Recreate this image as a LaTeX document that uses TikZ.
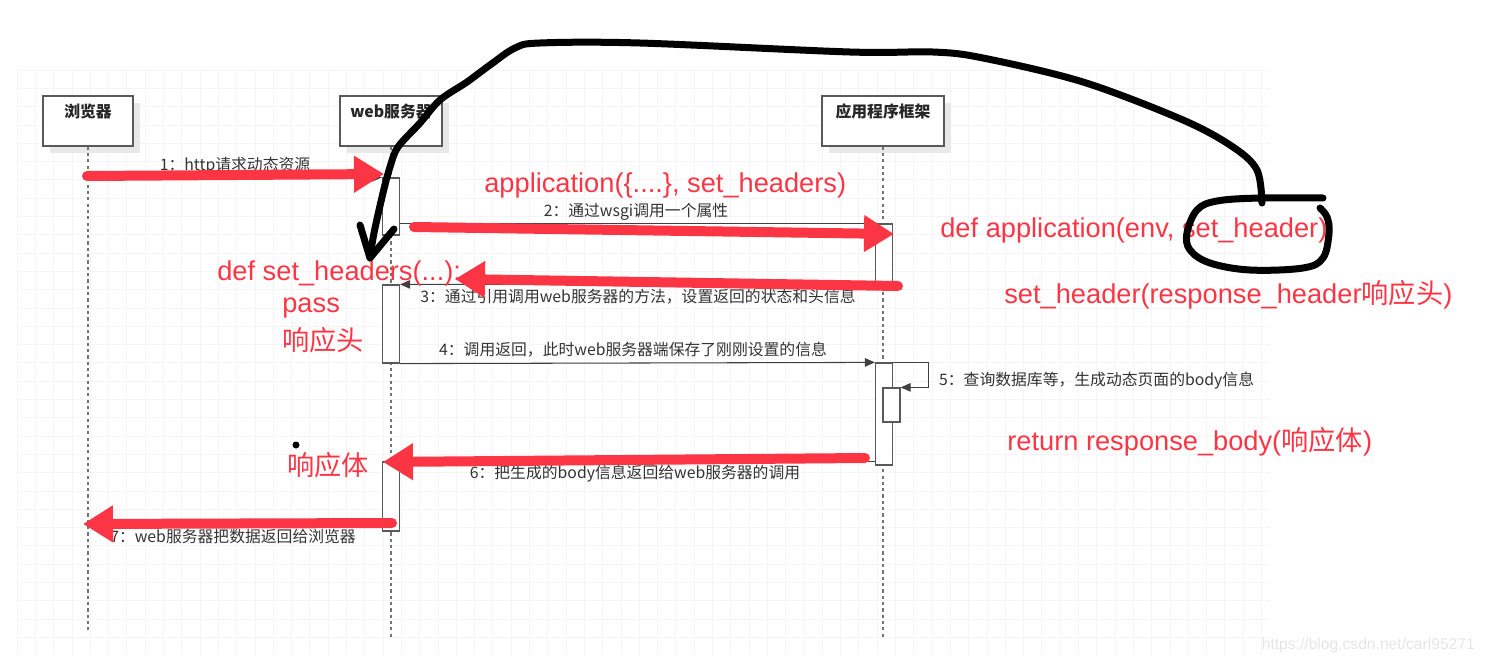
\documentclass[tikz,border=0pt]{standalone}
\usepackage{fontspec}
\setmainfont{Liberation Sans}
\newfontfamily\cjk{Noto Sans CJK SC}
\usetikzlibrary{arrows.meta,shadows}
\definecolor{notered}{HTML}{FC3545}

\tikzset{
  head/.style={draw=black!65, fill=white, line width=0.7pt, minimum height=1cm,
    text height=0.2cm, text depth=0.36cm, inner sep=0pt, text=black!85,
    font=\cjk\bfseries\fontsize{9}{10}\selectfont,
    drop shadow={shadow xshift=0.14cm, shadow yshift=-0.14cm, fill=black!9, opacity=1}},
  life/.style={draw=black!55, line width=0.7pt, dash pattern=on 1.8pt off 1.8pt},
  bar/.style={draw=black!65, fill=white, line width=0.7pt, minimum width=0.34cm, inner sep=0pt},
  msg/.style={draw=black!75, line width=0.6pt, -{Triangle[length=0.2cm,width=0.17cm]}},
  lbl/.style={font=\cjk\fontsize{9}{10}\selectfont, text=black!80, inner sep=1pt},
  note/.style={text=notered, font=\fontsize{15.5}{18}\selectfont, inner sep=0pt, anchor=west},
  redarrow/.style={draw=notered, line width=0.2cm, line cap=round,
    -{Triangle[length=0.6cm,width=0.7cm]}},
  pen/.style={draw=black, line width=0.14cm, line cap=round, line join=round},
}

\begin{document}
\begin{tikzpicture}[x=0.02cm,y=-0.02cm]
    \useasboundingbox (0,0) rectangle (1489,663);
    % faint background grid
    \foreach \gx in {17,35.3,...,1270}
        \draw[black!4] (\gx,70) -- (\gx,655);
    \foreach \gy in {70,88.3,...,655}
        \draw[black!4] (17,\gy) -- (1270,\gy);
    % lifeline heads
    \node[head, minimum width=1.8cm] (brw) at (88,121) {浏览器};
    \node[head, minimum width=2.04cm] (web) at (391,121) {web服务器};
    \node[head, minimum width=2.44cm] (app) at (883,121) {应用程序框架};
    % lifelines
    \draw[life] (brw.south) -- ++(0,484);
    \draw[life] (web.south) -- ++(0,492);
    \draw[life] (app.south) -- ++(0,491);
    % activation bars
    \node[bar, minimum height=1.14cm] (wb1) at (391,206.5) {};
    \node[bar, minimum height=1.56cm] (wb2) at (391,324) {};
    \node[bar, minimum height=1.38cm] (wb3) at (391,496.5) {};
    \node[bar, minimum height=1.2cm] (ab1) at (884,254) {};
    \node[bar, minimum height=2.04cm] (ab2) at (884,414) {};
    \node[bar, minimum height=0.68cm] (ab3) at (891.5,405) {};
    % messages
    \draw[msg] (brw |- wb1.north) -- (wb1.north west);
    \draw[msg] (wb1.east |- ab1.north) -- (ab1.north west);
    \draw[msg] (ab1.south west) -- (wb2.north east);
    \draw[msg] (wb2.south east) -- (ab2.north west);
    \draw[msg] (ab2.north east) -- ++(35,0) |- (ab3.north east);
    \draw[msg] (ab2.west |- wb3.north) -- (wb3.north east);
    \coordinate (m7) at ([yshift=0.14cm]wb3.south west);
    \draw[msg] (m7) -- (brw |- m7);
    % message labels
    \node[lbl] (l1) at (235,166) {1：http请求动态资源};
    \node[lbl] (l2) at (636,212) {2：通过wsgi调用一个属性};
    \node[lbl] (l3) at (638,297) {3：通过引用调用web服务器的方法，设置返回的状态和头信息};
    \node[lbl] (l4) at (633,350) {4：调用返回，此时web服务器端保存了刚刚设置的信息};
    \node[lbl, anchor=west] (l5) at (937,381) {5：查询数据库等，生成动态页面的body信息};
    \node[lbl] (l6) at (635,474) {6：把生成的body信息返回给web服务器的调用};
    \node[lbl] (l7) at (233,537) {7：web服务器把数据返回给浏览器};
    % red annotation arrows
    \coordinate (r1-a) at (87,176);  \coordinate (r1-b) at (384,174);
    \coordinate (r2-a) at (414,227); \coordinate (r2-b) at (894,234);
    \coordinate (r3-a) at (898,286); \coordinate (r3-b) at (455,279);
    \coordinate (r4-a) at (865,458); \coordinate (r4-b) at (383,462);
    \coordinate (r5-a) at (392,523); \coordinate (r5-b) at (83,524);
    \foreach \s in {1,...,5}
        \draw[redarrow] (r\s-a) -- (r\s-b);
    % red notes
    \node[note] (napp) at (484,185) {application(\{....\}, set\_headers)};
    \node[note] (ndef) at (940,230) {def application(env, set\_header):};
    \node[note] (nseth) at (1004,295) {set\_header(response\_header{\cjk 响应头})};
    \node[note] (ndefs) at (217,273) {def set\_headers(...):};
    \node[note] (npass) at (282,308) {pass};
    \node[note] (nhdr) at (282,340) {\cjk 响应头};
    \node[note] (nret) at (1007,442) {return response\_body({\cjk 响应体})};
    \node[note] (nbody) at (287,465) {\cjk 响应体};
    \fill (296,445) circle (3.5);
    % hand drawn loop round set_header and the curve back
    \draw[pen] plot[smooth, tension=0.6] coordinates {(1323,198) (1260,198) (1217,201)
        (1197,210) (1187,233) (1190,250) (1210,263) (1250,270) (1303,268) (1323,258)
        (1329,233) (1327,217) (1320,208)};
    \coordinate (circtop) at (1262,203);
    \coordinate (tip) at (370,258);
    \draw[pen] plot[smooth, tension=0.55] coordinates {(circtop) (1257,170) (1233,147)
        (1183,120) (1083,82) (983,58) (933,52) (850,52) (640,43) (540,43) (515,48)
        (490,65) (467,82) (440,100) (420,123) (398,147) (390,167) (383,193)
        (374,233) (tip)};
    \draw[pen] (360,225) -- (tip) -- (394,229);
    % watermark
    \node[text=black!10, font=\fontsize{8.9}{10}\selectfont, anchor=east] (wm) at (1481,645)
        {https://blog.csdn.net/carl95271};
\end{tikzpicture}
\end{document}
